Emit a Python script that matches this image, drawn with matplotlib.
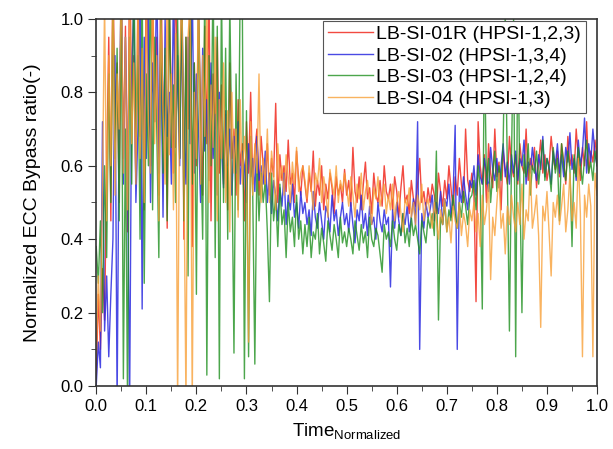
import matplotlib
matplotlib.use('Agg')
import matplotlib.pyplot as plt
from matplotlib.ticker import FormatStrFormatter
import numpy as np

plt.rcParams['font.family'] = ['Liberation Sans', 'DejaVu Sans']
plt.rcParams['mathtext.fontset'] = 'custom'
plt.rcParams['mathtext.rm'] = 'Liberation Sans'

labels = ['LB-SI-01R (HPSI-1,2,3)', 'LB-SI-02 (HPSI-1,3,4)',
          'LB-SI-03 (HPSI-1,2,4)', 'LB-SI-04 (HPSI-1,3)']

# values, evenly spaced in normalized time (0 .. 1)
si01r = [0.02, 0.25, 0.10, 0.32, 0.18, 0.60, 0.95, 0.45, 1.15, 0.70, 0.88, 0.50, 1.10, 0.62, 0.98, 0.42, 1.20, 0.75, 0.90, 0.55,
         1.05, 0.68, 0.92, 0.48, 1.15, 0.80, 0.60, 1.10, 0.72, 0.95, 0.52, 1.20, 0.66, 0.90, 0.43, 1.05, 0.78, 0.58, 1.12, 0.85,
         0.62, 1.10, 0.40, 0.95, 0.70, 1.15, 0.38, 0.88, 0.60, 1.05, 0.75, 0.52, 0.98, 0.66, 1.10, 0.45, 0.85, 0.70, 0.95, 0.58,
         0.82, 0.55, 0.74, 0.48, 0.88, 0.62, 0.70, 0.52, 0.78, 0.60, 0.66, 0.45, 0.72, 0.58, 0.80, 0.55, 0.64, 0.70, 0.52, 0.68,
         0.60, 0.55, 0.66, 0.52, 0.62, 0.57, 0.77, 0.50, 0.63, 0.56, 0.60, 0.53, 0.67, 0.55, 0.58, 0.50, 0.64, 0.56, 0.52, 0.60,
         0.55, 0.50, 0.58, 0.53, 0.64, 0.49, 0.56, 0.52, 0.60, 0.48, 0.55, 0.51, 0.58, 0.54, 0.47, 0.57, 0.52, 0.55, 0.50, 0.59,
         0.52, 0.56, 0.49, 0.65, 0.53, 0.50, 0.57, 0.48, 0.55, 0.61, 0.51, 0.54, 0.47, 0.58, 0.52, 0.50, 0.56, 0.49, 0.60, 0.53,
         0.51, 0.55, 0.48, 0.57, 0.53, 0.46, 0.54, 0.60, 0.50, 0.52, 0.47, 0.56, 0.51, 0.49, 0.55, 0.62, 0.50, 0.53, 0.48, 0.54,
         0.50, 0.55, 0.52, 0.47, 0.58, 0.53, 0.49, 0.56, 0.51, 0.60, 0.54, 0.48, 0.57, 0.52, 0.62, 0.55, 0.50, 0.70, 0.56, 0.53,
         0.58, 0.52, 0.23, 0.72, 0.60, 0.55, 0.63, 0.50, 0.66, 0.58, 0.54, 0.70, 0.57, 0.61, 0.48, 0.64, 0.59, 0.55, 0.68, 0.60,
         0.57, 0.63, 0.55, 0.66, 0.60, 0.58, 0.70, 0.56, 0.62, 0.59, 0.65, 0.54, 0.61, 0.67, 0.58, 0.63, 0.56, 0.60, 0.68, 0.62,
         0.59, 0.64, 0.57, 0.66, 0.61, 0.55, 0.68, 0.60, 0.63, 0.58, 0.70, 0.62, 0.56, 0.65, 0.60, 0.72, 0.58, 0.64, 0.61, 0.67,
         0.62]

si02 = [0.00, 0.12, 0.05, 0.72, 0.15, 0.30, 0.08, 0.25, 0.40, 0.90, -0.05, 0.75, 1.10, 0.55, 0.95, 0.60, -0.05, 0.85, 1.05, 0.50,
        0.70, 1.10, 0.21, 0.95, 0.62, 1.05, 0.50, 0.88, 0.72, 1.15, 0.58, 0.92, 0.46, 1.00, 0.68, 0.80, 0.55, 1.10, 0.65, 0.90,
        0.60, 1.05, 0.72, 0.55, 0.95, 0.66, 1.10, 0.58, 0.85, 0.70, 0.50, 0.92, 0.64, 0.78, 0.56, 0.88, 0.62, 0.74, 0.52, 0.80,
        0.66, 0.54, 0.75, 0.60, 0.70, 0.52, 0.68, 0.58, 0.72, 0.55, 0.64, 0.60, 0.50, 0.66, 0.57, 0.62, 0.53, 0.68, 0.56, 0.60,
        0.55, 0.64, 0.50, 0.58, 0.47, 0.56, 0.52, 0.45, 0.54, 0.49, 0.58, 0.44, 0.52, 0.48, 0.55, 0.46, 0.50, 0.43, 0.53, 0.47,
        0.50, 0.44, 0.48, 0.41, 0.53, 0.46, 0.43, 0.50, 0.45, 0.40, 0.49, 0.47, 0.42, 0.52, 0.45, 0.48, 0.41, 0.46, 0.50, 0.44,
        0.47, 0.42, 0.50, 0.44, 0.39, 0.48, 0.45, 0.52, 0.43, 0.47, 0.41, 0.49, 0.44, 0.46, 0.40, 0.50, 0.45, 0.42, 0.48, 0.44,
        0.46, 0.27, 0.48, 0.43, 0.50, 0.45, 0.41, 0.47, 0.44, 0.49, 0.42, 0.46, 0.51, 0.44, 0.72, 0.10, 0.47, 0.43, 0.50, 0.46,
        0.48, 0.52, 0.45, 0.50, 0.47, 0.53, 0.44, 0.51, 0.49, 0.55, 0.46, 0.52, 0.71, 0.10, 0.54, 0.50, 0.57, 0.52, 0.48, 0.56,
        0.54, 0.60, 0.52, 0.63, 0.57, 0.55, 0.62, 0.58, 0.53, 0.65, 0.59, 0.56, 0.62, 0.54, 0.60, 0.66, 0.57, 0.61, 0.55, 0.63,
        0.58, 0.64, 0.56, 0.62, 0.60, 0.67, 0.55, 0.61, 0.58, 0.65, 0.60, 0.56, 0.63, 0.59, 0.68, 0.57, 0.62, 0.60, 0.55, 0.64,
        0.60, 0.66, 0.58, 0.63, 0.57, 0.65, 0.61, 0.69, 0.59, 0.62, 0.56, 0.67, 0.60, 0.64, 0.73, 0.58, 0.66, 0.61, 0.70, 0.63,
        0.60]

si03 = [0.38, 0.28, 0.45, 0.20, 0.60, 0.35, 0.85, 0.50, 1.05, 0.62, 0.92, 0.45, 1.10, 0.02, 0.70, -0.05, 0.95, 0.55, 1.15, 0.68,
        0.90, 0.40, 1.10, 0.28, 0.85, 0.60, 1.15, 0.48, 0.95, 0.70, 0.35, 1.05, 0.58, 0.92, 0.45, 1.10, 0.65, 0.82, 0.50, 1.00,
        0.62, 1.10, 0.45, 0.95, 0.30, 1.15, 0.55, 0.88, 0.25, 1.05, 0.68, 0.40, 1.10, 0.03, 0.90, 0.60, 1.15, 0.35, 0.98, 0.02,
        1.10, 0.50, 0.92, 0.40, 1.05, 0.62, 0.09, 0.85, 0.48, 1.10, 1.05, 0.02, 0.75, 0.08, 0.68, 0.52, 0.06, 0.62, 0.45, 0.58,
        0.50, 0.56, 0.42, 0.23, 0.58, 0.45, 0.52, 0.38, 0.55, 0.44, 0.48, 0.35, 0.50, 0.42, 0.46, 0.38, 0.52, 0.40, 0.45, 0.36,
        0.44, 0.38, 0.46, 0.35, 0.42, 0.40, 0.47, 0.36, 0.43, 0.39, 0.34, 0.45, 0.41, 0.37, 0.44, 0.40, 0.35, 0.46, 0.39, 0.42,
        0.38, 0.43, 0.40, 0.36, 0.45, 0.41, 0.37, 0.44, 0.39, 0.42, 0.35, 0.46, 0.40, 0.38, 0.43, 0.41, 0.36, 0.31, 0.44, 0.40,
        0.42, 0.38, 0.45, 0.40, 0.37, 0.44, 0.41, 0.47, 0.39, 0.43, 0.38, 0.46, 0.41, 0.44, 0.40, 0.36, 0.45, 0.42, 0.39, 0.46,
        0.43, 0.47, 0.41, 0.64, 0.18, 0.46, 0.44, 0.50, 0.42, 0.48, 0.45, 0.52, 0.47, 0.43, 0.50, 0.46, 0.53, 0.49, 0.44, 0.51,
        0.52, 0.56, 0.48, 0.60, 0.54, 0.21, 0.95, 0.55, 0.62, 0.50, 0.58, 0.64, 0.53, 0.60, 0.56, 0.66, 1.02, 0.58, 0.15, 0.62,
        1.00, 0.08, 0.98, 0.55, 0.20, 0.63, 0.57, 0.66, 0.52, 0.60, 0.58, 0.64, 0.55, 0.61, 0.67, 0.56, 0.62, 0.59, 0.53, 0.65,
        0.58, 0.62, 0.45, 0.66, 0.60, 0.56, 0.64, 0.59, 0.38, 0.63, 0.57, 0.65, 0.60, 0.55, 0.62, 0.67, 0.58, 0.61, 0.56, 0.64,
        0.60]

si04 = [0.08, 0.30, 0.15, 0.55, 1.05, 0.45, 0.90, 0.60, 1.10, 0.52, 0.85, 0.70, 1.15, 0.58, 0.95, 0.48, 1.05, 0.66, 0.88, 0.55,
        1.10, 0.62, 0.92, 0.50, 1.05, 0.72, 0.58, 1.15, 0.66, 0.90, 0.45, 1.00, 0.75, 0.55, 1.10, 0.63, 0.85, 0.48, 0.96, -0.05,
        0.85, 1.10, 0.60, -0.05, 0.95, 1.05, -0.05, 0.80, 0.62, 1.10, 0.55, 0.90, 0.68, 1.05, 0.50, 0.82, 0.65, 0.95, 0.45, 0.78,
        0.62, 0.88, 0.50, 0.75, 0.42, 0.80, 0.58, 0.70, 0.46, 0.78, 0.55, 0.68, 0.60, 0.12, 0.72, 0.52, 0.66, 0.58, 0.85, 0.50,
        0.62, 0.55, 0.70, 0.50, 0.64, 0.58, 0.48, 0.66, 0.56, 0.60, 0.52, 0.63, 0.57, 0.50, 0.61, 0.55, 0.65, 0.53, 0.58, 0.60,
        0.56, 0.51, 0.60, 0.54, 0.48, 0.58, 0.55, 0.62, 0.50, 0.57, 0.53, 0.46, 0.59, 0.55, 0.52, 0.60, 0.50, 0.56, 0.53, 0.58,
        0.54, 0.49, 0.57, 0.52, 0.46, 0.55, 0.51, 0.58, 0.48, 0.53, 0.56, 0.50, 0.44, 0.54, 0.51, 0.57, 0.49, 0.52, 0.55, 0.47,
        0.52, 0.48, 0.55, 0.45, 0.50, 0.53, 0.47, 0.42, 0.51, 0.49, 0.54, 0.46, 0.50, 0.44, 0.52, 0.48, 0.55, 0.45, 0.49, 0.51,
        0.47, 0.43, 0.50, 0.45, 0.40, 0.48, 0.44, 0.51, 0.42, 0.46, 0.39, 0.49, 0.45, 0.43, 0.50, 0.41, 0.47, 0.44, 0.38, 0.48,
        0.45, 0.50, 0.42, 0.47, 0.38, 0.52, 0.44, 0.48, 0.55, 0.29, 0.46, 0.41, 0.50, 0.58, 0.43, 0.47, 0.36, 0.49, 0.44, 0.52,
        0.46, 0.42, 0.50, 0.44, 0.55, 0.40, 0.48, 0.45, 0.60, 0.43, 0.47, 0.52, 0.41, 0.16, 0.49, 0.45, 0.53, 0.42, 0.30, 0.50,
        0.46, 0.52, 0.44, 0.49, 0.55, 0.42, 0.48, 0.58, 0.45, 0.50, 0.43, 0.62, 0.47, 0.08, 0.52, 0.46, 0.55, 0.49, 0.08, 0.58,
        0.52]

series = [si01r, si02, si03, si04]
colors = ['#f02a20', '#2a2ae0', '#1f901f', '#f8a038']
alphas = [0.85, 0.85, 0.8, 0.8]

fig = plt.figure(figsize=(6.13, 4.49), dpi=100)
ax = fig.add_axes([0.157, 0.140, 0.817, 0.818])

for y, c, a, lab in zip(series, colors, alphas, labels):
    x = np.linspace(0, 1, len(y))
    ax.plot(x, y, color=c, lw=1.0, alpha=a, label=lab)

ax.set_xlim(0, 1)
ax.set_ylim(0, 1)
ax.set_xticks(np.arange(0, 1.01, 0.1))
ax.set_xticks(np.arange(0.05, 1.0, 0.1), minor=True)
ax.set_yticks(np.arange(0, 1.01, 0.2))
ax.set_yticks(np.arange(0.1, 1.0, 0.2), minor=True)
ax.xaxis.set_major_formatter(FormatStrFormatter('%.1f'))
ax.yaxis.set_major_formatter(FormatStrFormatter('%.1f'))
ax.tick_params(which='both', direction='out', top=False, right=False,
               labelsize=12, color='#333333', pad=3)
ax.tick_params(which='major', length=6)
ax.tick_params(which='minor', length=3.5)
for s in ax.spines.values():
    s.set_color('#333333')
    s.set_linewidth(1.2)

ax.set_ylabel('Normalized ECC Bypass ratio(-)', fontsize=14, labelpad=14)
ax.set_xlabel(r'Time$_{\mathrm{Normalized}}$', fontsize=13.5, labelpad=6)

leg = ax.legend(loc='upper right', bbox_to_anchor=(0.978, 0.995), fontsize=14,
                frameon=True, fancybox=False, borderaxespad=0, handlelength=2.3,
                labelspacing=0.2, borderpad=0.25, handletextpad=0.2)
leg.get_frame().set_edgecolor('#555555')
leg.get_frame().set_linewidth(0.8)
leg.get_frame().set_alpha(1.0)
for ln in leg.get_lines():
    ln.set_linewidth(1.0)

fig.savefig('out.png', dpi=100)
